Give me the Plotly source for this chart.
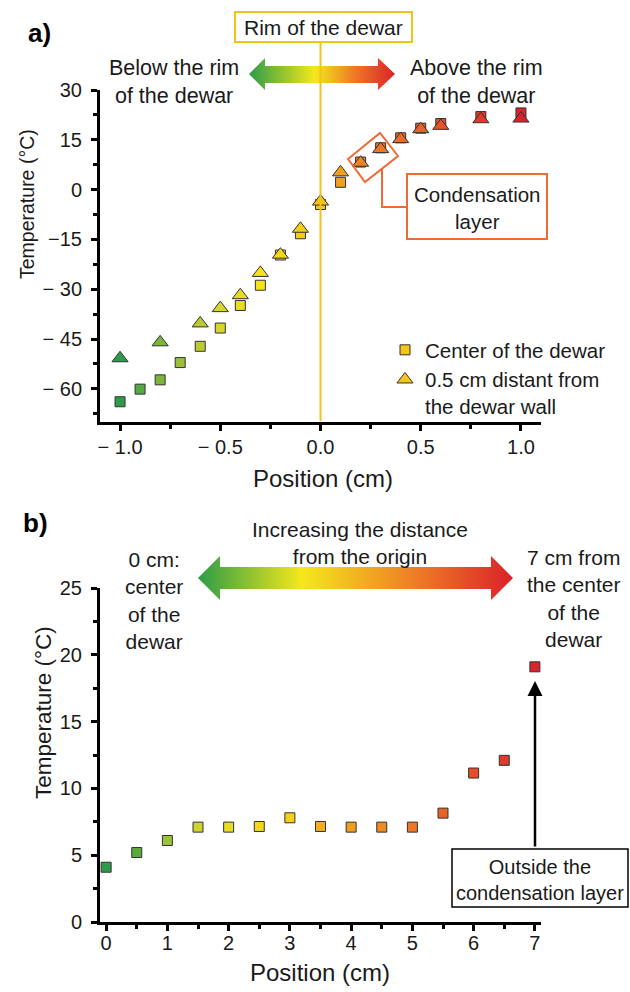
import base64
import plotly.graph_objects as go

# ---------------- data ----------------
pos_a_center = [-1.0, -0.9, -0.8, -0.7, -0.6, -0.5, -0.4, -0.3, -0.2, -0.1, 0.0, 0.1, 0.2, 0.3, 0.4, 0.5, 0.6, 0.8, 1.0]
temp_a_center = [-63.9, -60.1, -57.3, -52.1, -47.2, -41.7, -34.9, -28.8, -19.7, -13.3, -4.5, 2.2, 8.3, 12.6, 15.6, 18.5, 19.9, 22.0, 23.1]
pos_a_wall = [-1.0, -0.8, -0.6, -0.5, -0.4, -0.3, -0.2, -0.1, 0.0, 0.1, 0.2, 0.3, 0.4, 0.5, 0.6, 0.8, 1.0]
temp_a_wall = [-50.8, -46.0, -40.3, -35.7, -31.8, -25.1, -19.6, -11.8, -3.6, 5.2, 8.1, 12.2, 15.2, 18.2, 19.2, 21.2, 21.4]

pos_b = [0, 0.5, 1, 1.5, 2, 2.5, 3, 3.5, 4, 4.5, 5, 5.5, 6, 6.5, 7]
temp_b = [4.1, 5.2, 6.1, 7.1, 7.1, 7.15, 7.8, 7.15, 7.1, 7.1, 7.1, 8.15, 11.15, 12.1, 19.1]

ytick_a = [-60, -45, -30, -15, 0, 15, 30]
ytick_a_text = ["\u2212 60", "\u2212 45", "\u2212 30", "\u221215", "0", "15", "30"]
xtick_a = [-1.0, -0.5, 0.0, 0.5, 1.0]
xtick_a_text = ["\u2212 1.0", "\u2212 0.5", "0.0", "0.5", "1.0"]
ytick_b = [0, 5, 10, 15, 20, 25]
xtick_b = [0, 1, 2, 3, 4, 5, 6, 7]

# ---------------- styling helpers ----------------
W, H = 630, 992
FONT = "Liberation Sans, Arial, sans-serif"
TXT = "#1a1a1a"


def px(x):
    return x / W


def py(y):
    return 1 - y / H


cs_a = [[0.0, "#2e9b4a"], [0.1, "#7bb63a"], [0.25, "#d9d62a"], [0.35, "#f5e21a"],
        [0.5, "#f4c414"], [0.55, "#f0a01c"], [0.6, "#ee8424"], [0.75, "#e8602a"],
        [0.9, "#e03a2b"], [1.0, "#d9242b"]]
cs_b = [[0.0, "#2e9b4a"], [0.07, "#5aa83c"], [0.143, "#9cc23a"], [0.214, "#cfd22c"],
        [0.3, "#eedf20"], [0.43, "#f5cf18"], [0.5, "#f3ae1a"], [0.64, "#ef8c22"],
        [0.79, "#ea6226"], [0.93, "#df3a2a"], [1.0, "#d9242b"]]

xa_dom = [px(100), px(541)]
ya_dom = [py(422), py(90)]
yb_dom = [py(922), py(588)]
xa_rng = [-1.1, 1.1]
ya_rng = [-70, 30]
xb_rng = [-0.1, 7.1]
yb_rng = [0, 25]

fig = go.Figure()

mline = dict(color="#333333", width=1)
fig.add_trace(go.Scatter(x=pos_a_center, y=temp_a_center, mode="markers", xaxis="x", yaxis="y",
                         marker=dict(symbol="square", size=10, color=pos_a_center, colorscale=cs_a,
                                     cmin=-1, cmax=1, line=mline), showlegend=False))
fig.add_trace(go.Scatter(x=pos_a_wall, y=temp_a_wall, mode="markers", xaxis="x", yaxis="y",
                         marker=dict(symbol="triangle-up", size=14, color=pos_a_wall, colorscale=cs_a,
                                     cmin=-1, cmax=1, line=mline), showlegend=False))
# legend entries
fig.add_trace(go.Scatter(x=[None], y=[None], mode="markers", xaxis="x", yaxis="y",
                         name="Center of the dewar",
                         marker=dict(symbol="square", size=10, color="#f5c518", line=mline)))
fig.add_trace(go.Scatter(x=[None], y=[None], mode="markers", xaxis="x", yaxis="y",
                         name="0.5 cm distant from<br>the dewar wall",
                         marker=dict(symbol="triangle-up", size=14, color="#f5c518", line=mline)))

fig.add_trace(go.Scatter(x=pos_b, y=temp_b, mode="markers", xaxis="x2", yaxis="y2",
                         marker=dict(symbol="square", size=10, color=pos_b, colorscale=cs_b,
                                     cmin=0, cmax=7, line=mline), showlegend=False))

axis_common = dict(showgrid=False, zeroline=False, showline=True, linecolor="black", linewidth=3,
                   ticks="outside", ticklen=6, tickwidth=2.5, tickcolor="black", automargin=False,
                   tickfont=dict(family=FONT, size=20, color=TXT))
minor_common = dict(ticks="outside", ticklen=4, tickwidth=2.5, tickcolor="black")

fig.update_layout(
    template="none",
    width=W, height=H, margin=dict(l=0, r=0, t=0, b=0, pad=0, autoexpand=False),
    paper_bgcolor="white", plot_bgcolor="white",
    font=dict(family=FONT, size=20, color=TXT),
    xaxis=dict(domain=xa_dom, range=xa_rng, anchor="y", tickvals=xtick_a, ticktext=xtick_a_text,
               minor=dict(tickvals=[-0.75, -0.25, 0.25, 0.75], **minor_common),
               ticklabelstandoff=-1, **axis_common),
    yaxis=dict(domain=ya_dom, range=ya_rng, anchor="x", tickvals=ytick_a, ticktext=ytick_a_text,
               minor=dict(tickvals=[-67.5, -52.5, -37.5, -22.5, -7.5, 7.5, 22.5], **minor_common),
               ticklabelstandoff=5, **axis_common),
    xaxis2=dict(domain=xa_dom, range=xb_rng, anchor="y2", tickvals=xtick_b,
                minor=dict(tickvals=[0.5, 1.5, 2.5, 3.5, 4.5, 5.5, 6.5], **minor_common),
                ticklabelstandoff=-5, **axis_common),
    yaxis2=dict(domain=yb_dom, range=yb_rng, anchor="x2", tickvals=ytick_b,
                minor=dict(tickvals=[2.5, 7.5, 12.5, 17.5, 22.5], **minor_common),
                ticklabelstandoff=5, **axis_common),
    showlegend=True,
    legend=dict(x=px(385), y=py(330), xanchor="left", yanchor="top", bgcolor="rgba(0,0,0,0)",
                borderwidth=0, font=dict(family=FONT, size=20.5, color=TXT), valign="top",
                tracegroupgap=0, itemsizing="trace"),
)


# ---------------- gradient arrows (SVG images) ----------------
def arrow_uri(w, h, st, sb, hl, hr, stops):
    pts = [(0, h / 2), (hl, 0), (hl, st), (w - hr, st), (w - hr, 0), (w, h / 2),
           (w - hr, h), (w - hr, sb), (hl, sb), (hl, h)]
    d = "M" + " L".join(f"{a:.1f},{b:.1f}" for a, b in pts) + " Z"
    st_xml = "".join(f'<stop offset="{o}" stop-color="{c}"/>' for o, c in stops)
    svg = (f'<svg xmlns="http://www.w3.org/2000/svg" width="{w}" height="{h}" viewBox="0 0 {w} {h}" '
           f'preserveAspectRatio="none"><defs><linearGradient id="g" x1="0" y1="0" x2="1" y2="0">'
           f'{st_xml}</linearGradient></defs><path d="{d}" fill="url(#g)"/></svg>')
    return "data:image/svg+xml;base64," + base64.b64encode(svg.encode()).decode()


stops_a = [(0, "#2b9c47"), (0.45, "#f4e81c"), (0.72, "#ee7a26"), (1, "#da2229")]
stops_b = [(0, "#2b9c47"), (0.33, "#f4e81c"), (0.7, "#ee7a26"), (1, "#da2229")]
imgs = [
    dict(source=arrow_uri(146, 32, 8, 25, 16, 17, stops_a), xref="paper", yref="paper",
         x=px(249), y=py(58), sizex=px(146), sizey=32 / H, sizing="stretch",
         xanchor="left", yanchor="top", layer="above"),
    dict(source=arrow_uri(315, 44, 11, 33, 22, 22, stops_b), xref="paper", yref="paper",
         x=px(198), y=py(556), sizex=px(315), sizey=44 / H, sizing="stretch",
         xanchor="left", yanchor="top", layer="above"),
]
fig.update_layout(images=imgs)

# ---------------- shapes ----------------
x0_paper = xa_dom[0] + (0 - xa_rng[0]) / (xa_rng[1] - xa_rng[0]) * (xa_dom[1] - xa_dom[0])
GOLD = "#f5c21b"
ORANGE = "#ef6a34"
shapes = [
    dict(type="line", xref="paper", yref="paper", x0=x0_paper, x1=x0_paper, y0=py(42), y1=py(421),
         line=dict(color=GOLD, width=2)),
    dict(type="rect", xref="paper", yref="paper", x0=px(235), x1=px(412), y0=py(12), y1=py(42),
         line=dict(color=GOLD, width=2), fillcolor="white"),
    dict(type="path", xref="paper", yref="paper",
         path=(f"M{px(348)},{py(159)} L{px(380)},{py(133)} L{px(398)},{py(156)} "
               f"L{px(365)},{py(182)} Z"),
         line=dict(color=ORANGE, width=2)),
    dict(type="path", xref="paper", yref="paper",
         path=f"M{px(382)},{py(169)} L{px(382)},{py(207)} L{px(407)},{py(207)}",
         line=dict(color=ORANGE, width=2)),
    dict(type="rect", xref="paper", yref="paper", x0=px(407), x1=px(547), y0=py(174), y1=py(239),
         line=dict(color=ORANGE, width=2), fillcolor="white"),
    dict(type="rect", xref="paper", yref="paper", x0=px(452), x1=px(628), y0=py(849), y1=py(907),
         line=dict(color="black", width=1.5), fillcolor="white"),
]
fig.update_layout(shapes=shapes)


# ---------------- annotations ----------------
def txt(x, y, s, size=20, angle=0, align="center"):
    return dict(xref="paper", yref="paper", x=px(x), y=py(y), text=s,
                showarrow=False, xanchor="center", yanchor="middle", align=align, textangle=angle,
                font=dict(family=FONT, size=size, color=TXT))


ann = [
    dict(xref="paper", yref="paper", x=px(26), y=py(33), text="<b>a)</b>", showarrow=False,
         xanchor="left", yanchor="middle", font=dict(family=FONT, size=26, color="black")),
    dict(xref="paper", yref="paper", x=px(21), y=py(523), text="<b>b)</b>", showarrow=False,
         xanchor="left", yanchor="middle", font=dict(family=FONT, size=26, color="black")),
    txt(323.5, 27, "Rim of the dewar", size=21),
    txt(174, 82, "Below the rim<br>of the dewar", size=21.5),
    txt(476, 82, "Above the rim<br>of the dewar", size=21.5),
    txt(477, 208, "Condensation<br>layer", size=20.5),
    txt(27, 204, "Temperature (°C)", size=19.5, angle=-90),
    txt(323, 478, "Position (cm)", size=24),
    txt(360, 543, "Increasing the distance<br>from the origin", size=21),
    txt(154, 600, "0 cm:<br>center<br>of the<br>dewar", size=21),
    txt(573, 598, "7 cm from<br>the center<br>of the<br>dewar", size=21),
    txt(43, 712, "Temperature (°C)", size=22.5, angle=-90),
    txt(320, 972, "Position (cm)", size=24),
    txt(540, 880, "Outside the<br>condensation layer", size=20),
    dict(xref="paper", yref="paper", x=px(535), y=py(681), ax=0, ay=848 - 681,
         axref="pixel", ayref="pixel", text="", showarrow=True, arrowhead=2, arrowsize=1.2,
         arrowwidth=2.5, arrowcolor="black", standoff=0),
]
fig.update_layout(annotations=ann)

fig.write_html("out.html")
